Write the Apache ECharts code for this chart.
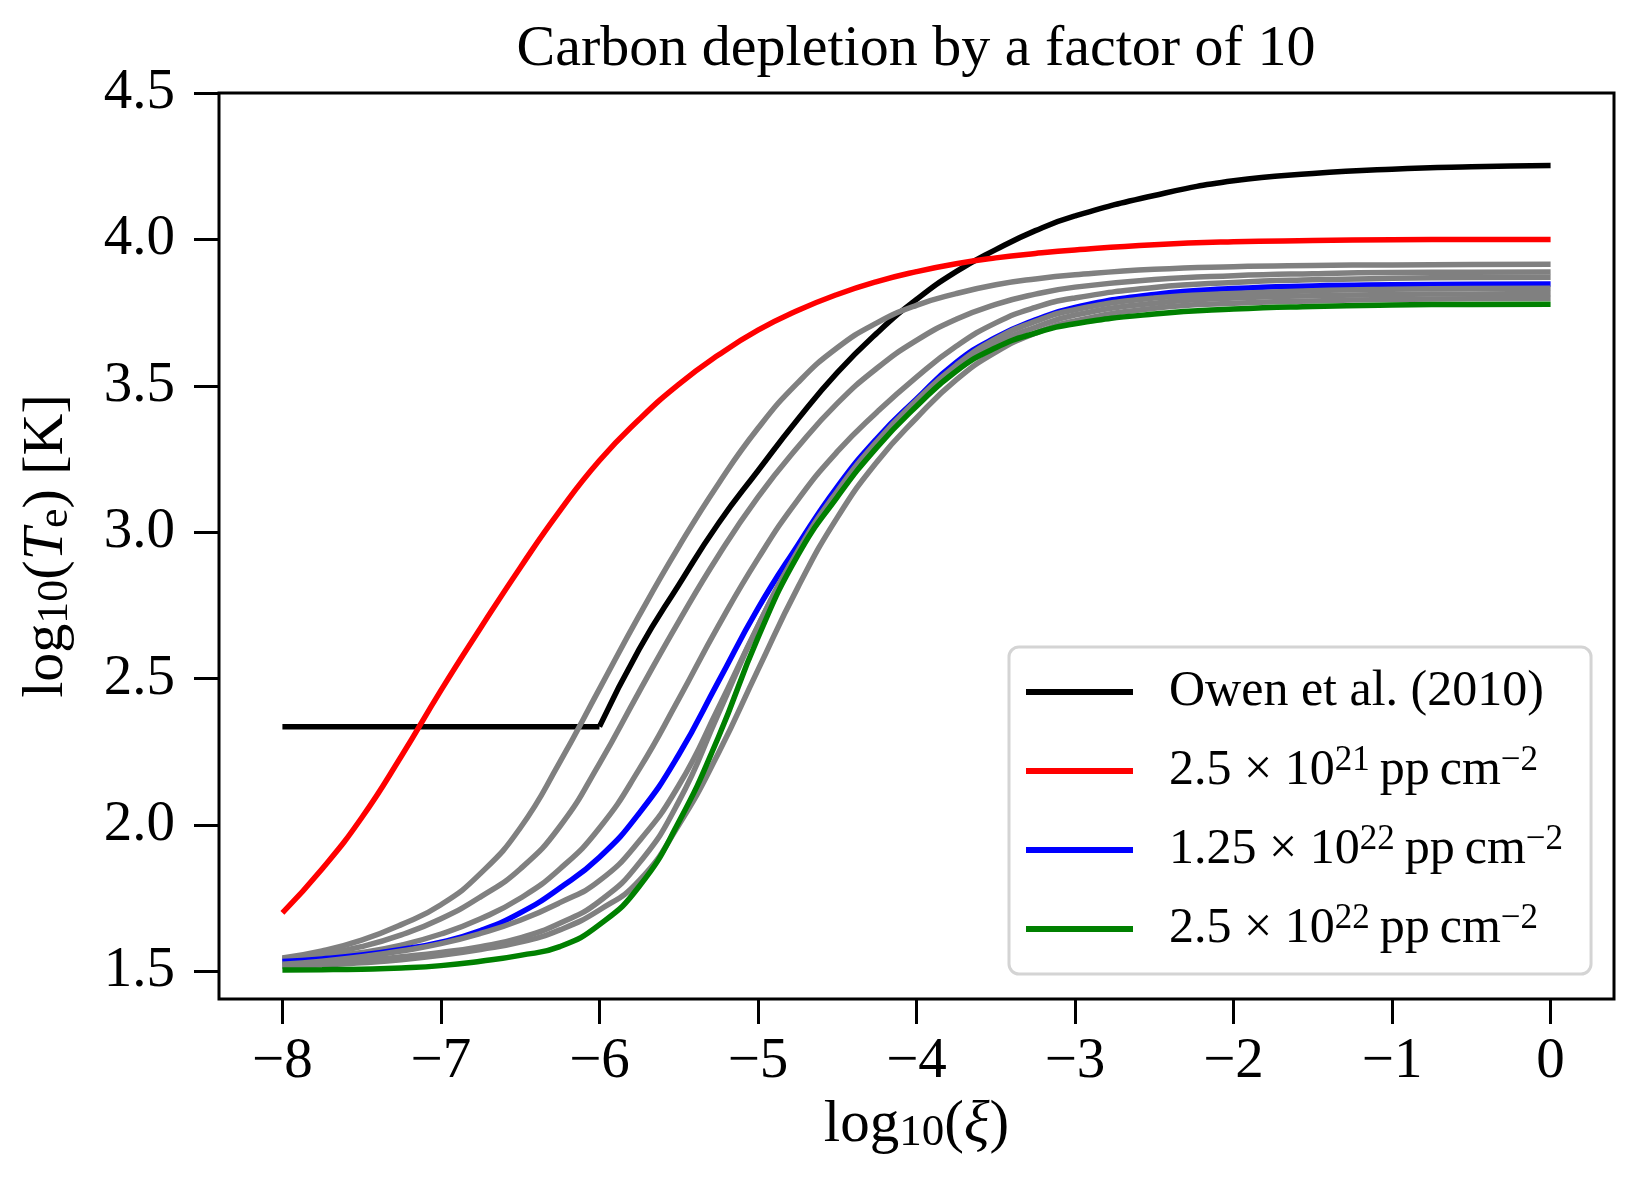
<!DOCTYPE html>
<html lang="en">
<head>
<meta charset="UTF-8">
<title>Carbon depletion</title>
<script src="https://cdn.jsdelivr.net/npm/echarts@6/dist/echarts.min.js"></script>
<style>
    html, body { margin: 0; padding: 0; background: #fff; }
    #main { width: 1644px; height: 1197px; }
</style>
</head>
<body>
<div id="main"></div>
<script>
    // log10(xi) sample points shared by every curve
    var xs = [-8, -7.75, -7.5, -7.25, -7, -6.75, -6.5, -6.25, -6, -5.75, -5.5, -5.25, -5, -4.75,
              -4.5, -4.25, -4, -3.75, -3.5, -3.25, -3, -2.5, -2, -1.5, -1, -0.5, 0];

    // log10(Te)
    var owen = [2.336, 2.336, 2.336, 2.336, 2.336, 2.336, 2.336, 2.336, 2.336, 2.60, 2.82, 3.03, 3.21, 3.385,
                3.545, 3.68, 3.795, 3.89, 3.965, 4.03, 4.08, 4.15, 4.20, 4.225, 4.24, 4.248, 4.252];
    var col25e21 = [1.70, 1.85, 2.025, 2.235, 2.46, 2.673, 2.879, 3.073, 3.245, 3.385, 3.505, 3.605, 3.69, 3.757,
                    3.812, 3.856, 3.89, 3.917, 3.937, 3.952, 3.964, 3.982, 3.992, 3.996, 3.999, 4.0, 4.0];
    var col125e22 = [1.534, 1.543, 1.556, 1.575, 1.60, 1.64, 1.70, 1.785, 1.89, 2.04, 2.24, 2.49, 2.74, 2.955,
                     3.155, 3.32, 3.455, 3.58, 3.665, 3.725, 3.768, 3.812, 3.832, 3.841, 3.845, 3.847, 3.848];
    var col25e22 = [1.505, 1.506, 1.508, 1.512, 1.52, 1.535, 1.555, 1.585, 1.66, 1.79, 2.01, 2.30, 2.64, 2.92,
                    3.12, 3.29, 3.43, 3.55, 3.63, 3.68, 3.712, 3.745, 3.762, 3.771, 3.776, 3.778, 3.779];

    // the other column densities, all drawn in grey
    var greyA = [1.546, 1.57, 1.607, 1.66, 1.728, 1.835, 1.99, 2.215, 2.465, 2.715, 2.95, 3.165, 3.355, 3.51,
                 3.63, 3.715, 3.775, 3.815, 3.845, 3.865, 3.879, 3.898, 3.907, 3.911, 3.913, 3.914, 3.915];
    var greyB = [1.544, 1.558, 1.585, 1.625, 1.68, 1.755, 1.85, 1.995, 2.21, 2.455, 2.695, 2.92, 3.12, 3.29,
                 3.44, 3.56, 3.655, 3.727, 3.778, 3.813, 3.837, 3.863, 3.876, 3.883, 3.887, 3.888, 3.889];
    var greyC = [1.540, 1.550, 1.565, 1.59, 1.628, 1.68, 1.75, 1.85, 1.99, 2.19, 2.43, 2.68, 2.91, 3.11,
                 3.275, 3.41, 3.53, 3.635, 3.715, 3.768, 3.80, 3.836, 3.853, 3.862, 3.867, 3.87, 3.871];
    var greyD = [1.525, 1.535, 1.55, 1.57, 1.595, 1.63, 1.675, 1.735, 1.81, 1.945, 2.135, 2.40, 2.68, 2.935,
                 3.14, 3.31, 3.45, 3.57, 3.66, 3.72, 3.76, 3.80, 3.815, 3.825, 3.83, 3.832, 3.833];
    var greyE = [1.52, 1.527, 1.537, 1.55, 1.565, 1.585, 1.615, 1.665, 1.74, 1.87, 2.08, 2.38, 2.68, 2.93,
                 3.125, 3.295, 3.44, 3.56, 3.645, 3.70, 3.742, 3.782, 3.80, 3.808, 3.812, 3.814, 3.815];
    var greyF = [1.518, 1.522, 1.53, 1.54, 1.555, 1.575, 1.60, 1.642, 1.71, 1.81, 2.00, 2.245, 2.53, 2.81,
                 3.05, 3.24, 3.39, 3.52, 3.615, 3.68, 3.722, 3.765, 3.782, 3.79, 3.795, 3.797, 3.798];

    var xTicks = [-8, -7, -6, -5, -4, -3, -2, -1, 0];
    var yTicks = [1.5, 2.0, 2.5, 3.0, 3.5, 4.0, 4.5];

    // the Owen et al. fit is flat below log xi = -6 (index 8) and then rises
    var owenKnee = 8;

    var legendText = {
        owen: 'Owen et al. (2010)',
        c1: '2.5 \u00d7 10{sup|21}\u2009pp\u2009cm{sup|\u22122}',
        c2: '1.25 \u00d7 10{sup|22}\u2009pp\u2009cm{sup|\u22122}',
        c3: '2.5 \u00d7 10{sup|22}\u2009pp\u2009cm{sup|\u22122}'
    };

    var serif = 'Liberation Serif';

    function pts(arr, from, to) {
        var out = [];
        for (var i = from || 0; i < (to || xs.length); i++) out.push([xs[i], arr[i]]);
        return out;
    }

    function line(name, data, color, smooth) {
        return {
            name: name,
            type: 'line',
            data: data,
            showSymbol: false,
            symbol: 'none',
            smooth: smooth,
            color: color,
            itemStyle: {color: color},
            lineStyle: {color: color, width: 5.5},
            emphasis: {disabled: true},
            silent: true
        };
    }

    var grey = '#808080';
    var chart = echarts.init(document.getElementById('main'));
    var option = {
        animation: false,
        backgroundColor: '#fff',
        title: {
            text: 'Carbon depletion by a factor of 10',
            left: 916,
            textAlign: 'center',
            top: 21,
            padding: 0,
            textStyle: {fontFamily: serif, fontSize: 58, fontWeight: 'normal', color: '#000'}
        },
        grid: {
            left: 219, right: 30, top: 93, bottom: 198,
            show: true, borderColor: '#000', borderWidth: 3,
            outerBoundsMode: 'none'
        },
        legend: {
            data: [
                {name: 'owen', icon: 'rect'},
                {name: 'c1', icon: 'rect'},
                {name: 'c2', icon: 'rect'},
                {name: 'c3', icon: 'rect'}
            ],
            orient: 'vertical',
            left: 1009,
            top: 647,
            itemWidth: 107,
            itemHeight: 6,
            itemGap: 23,
            padding: [17, 28, 17, 17],
            borderColor: '#d4d4d4',
            borderWidth: 3,
            borderRadius: 10,
            backgroundColor: '#fff',
            selectedMode: false,
            formatter: function (name) { return legendText[name]; },
            textStyle: {
                fontFamily: serif, fontSize: 50, lineHeight: 56, color: '#000',
                padding: [0, 0, 0, 31],
                rich: {
                    sup: {fontFamily: serif, fontSize: 35, lineHeight: 40, verticalAlign: 'top', color: '#000'}
                }
            }
        },
        xAxis: {
            type: 'value',
            min: -8.4,
            max: 0.4,
            splitLine: {show: false},
            axisLine: {show: false, onZero: false},
            axisTick: {show: true, length: 25, customValues: xTicks, lineStyle: {color: '#000', width: 3}},
            axisLabel: {
                customValues: xTicks,
                margin: 35,
                fontFamily: serif, fontSize: 57, color: '#000',
                formatter: function (v) { return v < 0 ? '\u2212' + Math.abs(v) : String(v); }
            },
            name: 'log{sub|10}({it|\u03be})',
            nameLocation: 'middle',
            nameGap: 92,
            nameTextStyle: {
                fontFamily: serif, fontSize: 59, lineHeight: 60, color: '#000',
                rich: {
                    sub: {fontFamily: serif, fontSize: 45, lineHeight: 40, verticalAlign: 'bottom', color: '#000'},
                    it: {fontFamily: serif, fontSize: 60, fontStyle: 'italic', color: '#000'}
                }
            }
        },
        yAxis: {
            type: 'value',
            min: 1.406,
            max: 4.5,
            splitLine: {show: false},
            axisLine: {show: false, onZero: false},
            axisTick: {show: true, length: 25, customValues: yTicks, lineStyle: {color: '#000', width: 3}},
            axisLabel: {
                customValues: yTicks,
                margin: 44,
                fontFamily: serif, fontSize: 57, color: '#000',
                formatter: function (v) { return v.toFixed(1); }
            },
            name: 'log{sub|10}({it|T}{sub|e}) [K]',
            nameLocation: 'middle',
            nameRotate: 90,
            nameGap: 142,
            nameTextStyle: {
                fontFamily: serif, fontSize: 58, lineHeight: 60, color: '#000',
                rich: {
                    sub: {fontFamily: serif, fontSize: 44, lineHeight: 40, verticalAlign: 'bottom', color: '#000'},
                    it: {fontFamily: serif, fontSize: 58, fontStyle: 'italic', color: '#000'}
                }
            }
        },
        series: [
            line('owen', pts(owen, 0, owenKnee + 1), '#000000', false),
            line('owen', pts(owen, owenKnee), '#000000', 0.5),
            line('c1', pts(col25e21), '#ff0000', 0.5),
            line('greyA', pts(greyA), grey, 0.5),
            line('greyB', pts(greyB), grey, 0.5),
            line('greyC', pts(greyC), grey, 0.5),
            line('c2', pts(col125e22), '#0000ff', 0.5),
            line('greyD', pts(greyD), grey, 0.5),
            line('greyE', pts(greyE), grey, 0.5),
            line('greyF', pts(greyF), grey, 0.5),
            line('c3', pts(col25e22), '#008000', 0.5)
        ]
    };
    chart.setOption(option);
</script>
</body>
</html>
